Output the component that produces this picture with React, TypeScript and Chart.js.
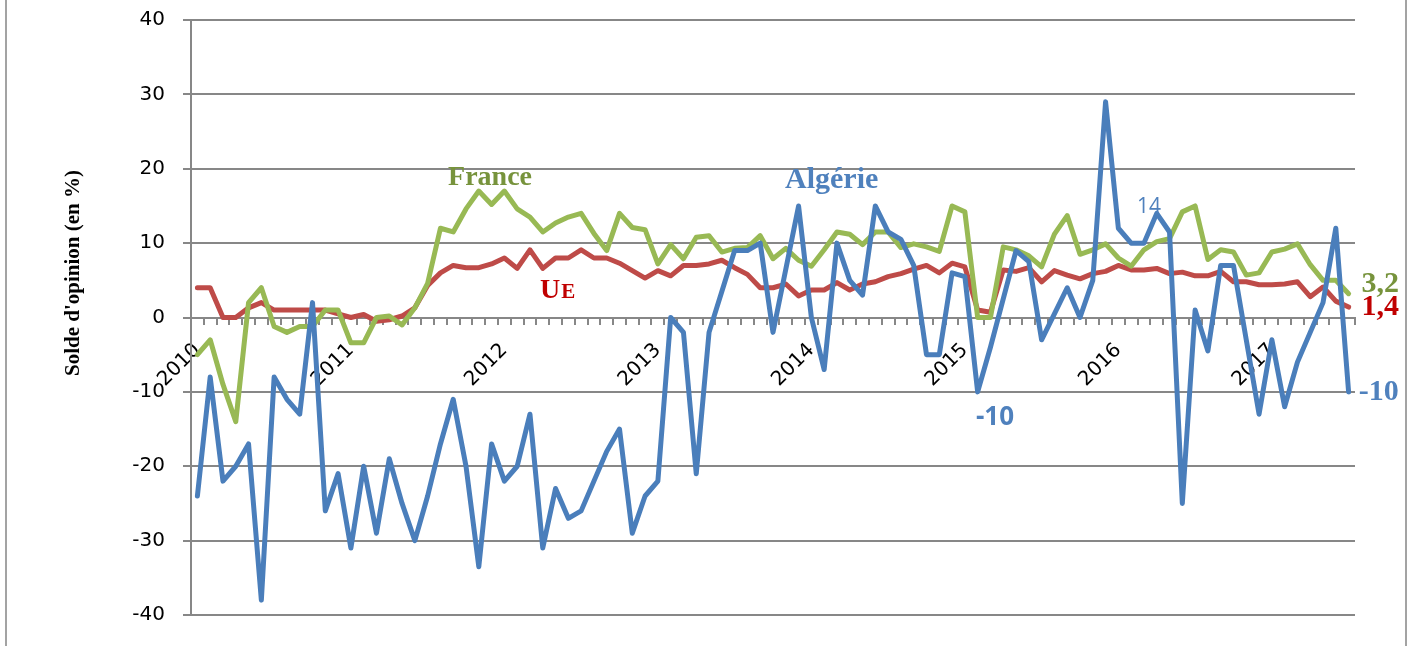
import React, { useEffect, useRef } from 'react';
import { Chart, registerables } from 'chart.js';

Chart.register(...registerables);

// ---- data ----
const YEARS = ['2010', '2011', '2012', '2013', '2014', '2015', '2016', '2017'];
const MONTHS_IN_LAST_YEAR = 7;

const ALGERIE = [
  -24, -8, -22, -20, -17, -38, -8, -11, -13, 2, -26, -21,
  -31, -20, -29, -19, -25, -30, -24, -17, -11, -20, -33.5, -17,
  -22, -20, -13, -31, -23, -27, -26, -22, -18, -15, -29, -24,
  -22, 0, -2, -21, -2, 3.5, 9, 9, 10, -2, 6.5, 15,
  0, -7, 10, 5, 3, 15, 11.5, 10.5, 7, -5, -5, 6,
  5.5, -10, -4, 2.5, 9, 7.5, -3, 0.5, 4, 0, 5, 29,
  12, 10, 10, 14, 11.5, -25, 1, -4.5, 7, 7, -3, -13,
  -3, -12, -6, -2, 2, 12, -10,
];

const FRANCE = [
  -5, -3, -9, -14, 2, 4, -1.2, -2, -1.2, -1.2, 1, 1,
  -3.4, -3.4, 0, 0.2, -1, 1.3, 4.6, 12, 11.5, 14.6, 17, 15.2,
  17, 14.6, 13.5, 11.5, 12.7, 13.5, 14, 11.3, 9, 14, 12.1, 11.8,
  7.2, 9.8, 7.9, 10.8, 11, 8.8, 9.3, 9.4, 11, 7.9, 9.3, 7.7,
  6.9, 9.1, 11.5, 11.2, 9.8, 11.5, 11.5, 9.4, 9.9, 9.5, 8.9, 15,
  14.2, 0, 0, 9.5, 9.1, 8.3, 6.8, 11.2, 13.7, 8.5, 9.1, 9.9,
  8, 6.9, 9.1, 10.2, 10.6, 14.2, 15, 7.8, 9.1, 8.8, 5.7, 6,
  8.8, 9.2, 9.9, 7.1, 5, 5, 3.2,
];

const UE = [
  4, 4, 0, 0, 1.3, 2, 1, 1, 1, 1, 1, 0.5,
  0, 0.4, -0.5, -0.3, 0.2, 1.3, 4.3, 6, 7, 6.7, 6.7, 7.2,
  8, 6.6, 9.1, 6.6, 8, 8, 9.1, 8, 8, 7.3, 6.3, 5.3,
  6.3, 5.6, 7, 7, 7.2, 7.7, 6.7, 5.8, 4, 4, 4.5, 2.9,
  3.7, 3.7, 4.7, 3.7, 4.5, 4.8, 5.5, 5.9, 6.5, 7, 6, 7.3,
  6.8, 1, 0.7, 6.4, 6.2, 6.7, 4.8, 6.3, 5.7, 5.2, 5.9, 6.2,
  7, 6.4, 6.4, 6.6, 5.9, 6.1, 5.6, 5.6, 6.2, 4.8, 4.8, 4.4,
  4.4, 4.5, 4.8, 2.8, 4.1, 2.2, 1.4,
];

const Y_TITLE = "Solde d'opinion (en %)";

// category labels (one per month), year shown on January ticks
const CATEGORIES: string[] = [];
YEARS.forEach((yr, yi) => {
  const n = yi === YEARS.length - 1 ? MONTHS_IN_LAST_YEAR : 12;
  for (let m = 1; m <= n; m++) CATEGORIES.push(`${String(m).padStart(2, '0')}/${yr}`);
});

const GRID = '#878787';
const SERIF = '"Liberation Serif", "Times New Roman", serif';
const SANS = '"DejaVu Sans", Verdana, sans-serif';

const textPlugin = {
  id: 'texts',
  afterDraw(chart: any) {
    const { ctx, scales } = chart;
    const x = scales.x;
    const y = scales.y;
    const px = (i: number) => x.getPixelForValue(i);
    const py = (v: number) => y.getPixelForValue(v);
    ctx.save();
    // frame lines
    ctx.strokeStyle = '#a3a3a3';
    ctx.lineWidth = 2;
    ctx.beginPath();
    ctx.moveTo(6, 0);
    ctx.lineTo(6, chart.height);
    ctx.moveTo(1406, 0);
    ctx.lineTo(1406, chart.height);
    ctx.stroke();

    // y title
    ctx.save();
    ctx.translate(74, 273);
    ctx.rotate(-Math.PI / 2);
    ctx.font = `bold 21px ${SERIF}`;
    ctx.fillStyle = '#000';
    ctx.textAlign = 'center';
    ctx.textBaseline = 'middle';
    ctx.fillText(Y_TITLE, 0, 0);
    ctx.restore();

    ctx.textBaseline = 'alphabetic';
    const put = (t: string, i: number, v: number, font: string, color: string, align: CanvasTextAlign = 'left') => {
      ctx.font = font;
      ctx.fillStyle = color;
      ctx.textAlign = align;
      ctx.fillText(t, px(i), py(v));
    };
    put('France', 22.88, 17.8, `bold 28px ${SERIF}`, '#77933C', 'center');
    // UE with small-cap E
    ctx.font = `bold 28px ${SERIF}`;
    ctx.fillStyle = '#C00000';
    ctx.textAlign = 'left';
    const ux = px(26.78);
    const uy = py(2.62);
    ctx.fillText('U', ux, uy);
    const uw = ctx.measureText('U').width;
    ctx.font = `bold 21px ${SERIF}`;
    ctx.fillText('E', ux + uw + 1, uy);

    put('Algérie', 45.94, 17.4, `bold 30px ${SERIF}`, '#4F81BD');
    put('14', 73.46, 14.05, `21px "Open Sans", ${SANS}`, '#4F81BD');
    put('-10', 60.87, -14.45, `bold 26px "Open Sans", ${SANS}`, '#4F81BD');
    put('3,2', 91.0, 3.47, `bold 30px ${SERIF}`, '#77933C');
    put('1,4', 91.0, 0.34, `bold 30px ${SERIF}`, '#C00000');
    put('-10', 90.8, -11.09, `bold 30px ${SERIF}`, '#4F81BD');
    ctx.restore();
  },
};

export default function App() {
  const canvasRef = useRef<HTMLCanvasElement | null>(null);

  useEffect(() => {
    if (!canvasRef.current) return;
    const lineDs = (label: string, data: number[], color: string) => ({
      label,
      data,
      borderColor: color,
      backgroundColor: color,
      borderWidth: 5,
      pointRadius: 0,
      pointHoverRadius: 0,
      tension: 0,
      fill: false,
      borderJoinStyle: 'round' as const,
      borderCapStyle: 'round' as const,
    });
    const chart = new Chart(canvasRef.current, {
      type: 'line',
      data: {
        labels: CATEGORIES,
        datasets: [
          lineDs('Algérie', ALGERIE, '#4A7EBB'),
          lineDs('France', FRANCE, '#98B954'),
          lineDs('UE', UE, '#BE4B48'),
        ],
      },
      options: {
        animation: false,
        responsive: true,
        maintainAspectRatio: false,
        events: [],
        layout: { padding: { left: 0, right: 57, top: 20, bottom: 31 } },
        plugins: { legend: { display: false }, tooltip: { enabled: false }, title: { display: false } },
        scales: {
          x: {
            type: 'category',
            position: { y: 0 } as any,
            offset: true,
            grid: {
              display: true,
              offset: true,
              drawOnChartArea: false,
              drawTicks: true,
              tickLength: 6,
              color: GRID,
              lineWidth: 2,
            },
            border: { display: true, color: GRID, width: 2 },
            ticks: {
              autoSkip: false,
              minRotation: 45,
              maxRotation: 45,
              padding: 15,
              color: '#000',
              font: { family: SANS, size: 20 },
              callback: (_v: any, idx: number) => {
                const lab = CATEGORIES[idx];
                return lab.startsWith('01/') ? lab.slice(3) : '';
              },
            },
          },
          y: {
            min: -40,
            max: 40,
            afterFit: (scale: any) => {
              scale.width = 191;
              scale.paddingTop = 0;
              scale.paddingBottom = 0;
            },
            grid: { color: GRID, lineWidth: 2, drawTicks: true, tickLength: 8 },
            border: { display: true, color: GRID, width: 2 },
            ticks: {
              stepSize: 10,
              padding: 18,
              color: '#000',
              font: { family: SANS, size: 20 },
            },
          },
        },
      },
      plugins: [textPlugin],
    });
    return () => chart.destroy();
  }, []);

  return (
    <div style={{ position: 'fixed', left: 0, top: 0, width: 1412, height: 646, background: '#fff', overflow: 'hidden' }}>
      <canvas ref={canvasRef} />
    </div>
  );
}
